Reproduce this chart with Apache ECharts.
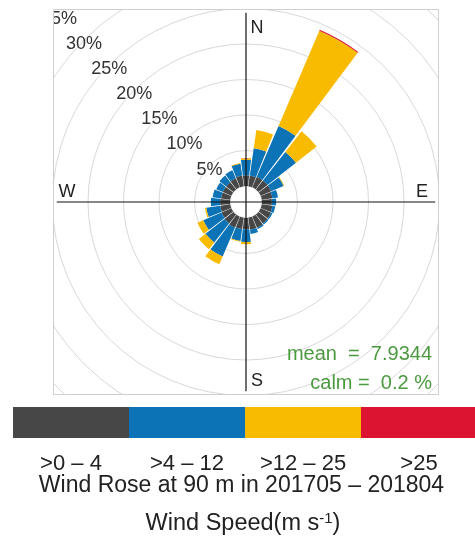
<!DOCTYPE html>
<html>
<head>
<meta charset="utf-8">
<script src="https://cdn.jsdelivr.net/npm/echarts@6/dist/echarts.min.js"></script>
<style>
  html, body { margin: 0; padding: 0; background: #ffffff; }
  #chart { width: 475px; height: 545px; }
</style>
</head>
<body>
<div id="chart"></div>
<script>
// Wind direction sectors (degrees clockwise from north), 15-degree bins starting at north
const directions = ['360', '15', '30', '45', '60', '75', '90', '105', '120', '135', '150', '165',
                    '180', '195', '210', '225', '240', '255', '270', '285', '300', '315', '330', '345'];

// Wind speed classes (m/s) and their colours
const speedBins = ['>0 – 4', '>4 – 12', '>12 – 25', '>25'];
const speedColors = ['#474747', '#0b73b6', '#f9bb00', '#dc1432'];

// Frequency (%) of each speed class per direction sector
const freqSpeed0to4 = [1.5, 1.5, 1.6, 1.6, 1.6, 1.5, 1.4, 1.5, 1.6, 1.6, 1.7, 1.7,
                       1.6, 1.6, 1.7, 1.6, 1.5, 1.4, 1.4, 1.3, 1.3, 1.3, 1.4, 1.5];
const freqSpeed4to12 = [2.2, 3.9, 7.8, 5.1, 1.9, 0.8, 0.6, 0.4, 0.2, 0.2, 0.2, 0.6,
                        1.8, 1.7, 4.4, 3.4, 2.8, 2.0, 1.3, 1.2, 1.0, 1.2, 1.2, 1.7];
const freqSpeed12to25 = [0.2, 2.6, 14.6, 3.7, 0.1, 0, 0, 0, 0, 0, 0, 0,
                         0.3, 0.1, 1.2, 1.2, 0.9, 0.2, 0, 0, 0, 0, 0, 0.1];
const freqSpeedAbove25 = [0, 0, 0.15, 0, 0, 0, 0, 0, 0, 0, 0, 0,
                          0, 0, 0, 0, 0, 0, 0, 0, 0, 0, 0, 0];

// Frequency rings (%)
const ringMax = 35;
const ringStep = 5;

// Summary statistics
const meanSpeed = '7.9344';
const calmPercent = '0.2';

const chartTitle = 'Wind Rose at 90 m in 201705 – 201804';
const compassLabels = ['N', 'E', 'S', 'W'];

// ---- layout ----
const CX = 246, CY = 202;          // rose centre
const HOLE = 16;                    // inner offset radius (px)
const PX_PER_PCT = 7.1;             // radial scale
const OUTER = HOLE + ringMax * PX_PER_PCT;
const PANEL_HALF = 192.5;           // half size of the framed panel
const CROSS_PCT = 24.4;             // extent of the compass cross lines (%)
const RING_LABEL_DROP = 4;          // ring labels sit slightly below the diagonal
const FONT = '"Liberation Sans", Arial, sans-serif';

const seriesValues = [freqSpeed0to4, freqSpeed4to12, freqSpeed12to25, freqSpeedAbove25];

const chart = echarts.init(document.getElementById('chart'), null, { renderer: 'canvas' });

const crossR = HOLE + CROSS_PCT * PX_PER_PCT;
const panelL = CX - PANEL_HALF, panelR = CX + PANEL_HALF;
const panelT = CY - PANEL_HALF, panelB = CY + PANEL_HALF;

const graphics = [];
// white masks keep the rings inside the framed panel
[[0, 0, 475, panelT], [0, panelB, 475, 545 - panelB], [0, 0, panelL, 545], [panelR, 0, 475 - panelR, 545]]
  .forEach(([x, y, w, h]) => graphics.push({
    type: 'rect', silent: true, z: 50,
    shape: { x, y, width: w, height: h }, style: { fill: '#ffffff' }
  }));
// panel frame
graphics.push({
  type: 'rect', silent: true, z: 51,
  shape: { x: panelL, y: panelT, width: panelR - panelL, height: panelB - panelT },
  style: { fill: 'none', stroke: '#cfcfcf', lineWidth: 1 }
});
// compass cross
graphics.push({ type: 'line', silent: true, z: 51,
  shape: { x1: CX - crossR, y1: CY, x2: CX + crossR, y2: CY }, style: { stroke: '#111', lineWidth: 1.2 } });
graphics.push({ type: 'line', silent: true, z: 51,
  shape: { x1: CX, y1: CY - crossR, x2: CX, y2: CY + crossR }, style: { stroke: '#111', lineWidth: 1.2 } });

function addText(text, x, y, opts) {
  graphics.push({
    type: 'text', silent: true, z: 52,
    style: Object.assign({
      text, x, y, fill: '#222', font: '18px ' + FONT,
      align: 'center', verticalAlign: 'middle',
      textAlign: 'center', textVerticalAlign: 'middle'
    }, opts || {})
  });
}
// compass letters
addText(compassLabels[0], CX + 11, CY - 174);
addText(compassLabels[1], CX + 176, CY - 10);
addText(compassLabels[2], CX + 11, CY + 179);
addText(compassLabels[3], CX - 179, CY - 10);
// statistics
addText('mean  =  ' + meanSpeed, 432, 354,
  { fill: '#4c9a40', align: 'right', textAlign: 'right', font: '20px ' + FONT });
addText('calm =  ' + calmPercent + ' %', 432, 383,
  { fill: '#4c9a40', align: 'right', textAlign: 'right', font: '20px ' + FONT });

// colour key
const keyX = 13, keyW = 116, keyY = 407, keyH = 31;
speedBins.forEach((label, i) => {
  graphics.push({ type: 'rect', silent: true, z: 52,
    shape: { x: keyX + i * keyW, y: keyY, width: keyW, height: keyH },
    style: { fill: speedColors[i] } });
  addText(label, keyX + i * keyW + keyW / 2, 464, { font: '22px ' + FONT });
});
addText(chartTitle, 241.5, 486, { font: '23px ' + FONT });
graphics.push({
  type: 'text', silent: true, z: 52,
  style: {
    text: 'Wind Speed(m s{sup|-1})', x: 243, y: 524,
    fill: '#222', font: '23.5px ' + FONT,
    align: 'center', verticalAlign: 'middle', textAlign: 'center', textVerticalAlign: 'middle',
    rich: { sup: { fontSize: 15, fontFamily: FONT, fill: '#222', verticalAlign: 'top', padding: [0, 0, 10, 0] } }
  }
});

const option = {
  animation: false,
  backgroundColor: '#ffffff',
  polar: [
    { center: [CX, CY], radius: [HOLE, OUTER] },
    { center: [CX, CY + RING_LABEL_DROP], radius: [HOLE, OUTER] }
  ],
  angleAxis: [
    {
      polarIndex: 0, type: 'category', data: directions,
      startAngle: 90 + 7.5, clockwise: true,
      axisLine: { show: false }, axisTick: { show: false },
      axisLabel: { show: false }, splitLine: { show: false }
    },
    {
      polarIndex: 1, type: 'value', min: 0, max: 360, startAngle: 135,
      axisLine: { show: false }, axisTick: { show: false },
      axisLabel: { show: false }, splitLine: { show: false }
    }
  ],
  radiusAxis: [
    {
      polarIndex: 0, type: 'value', min: 0, max: ringMax, interval: ringStep,
      axisLine: { show: false }, axisTick: { show: false }, axisLabel: { show: false },
      splitLine: { show: true, lineStyle: { color: '#d9d9d9', width: 1 } }
    },
    {
      polarIndex: 1, type: 'value', min: 0, max: ringMax, interval: ringStep,
      axisLine: { show: false }, axisTick: { show: false }, splitLine: { show: false },
      axisLabel: {
        formatter: v => (v > 0 ? v + '%' : ''),
        margin: 0, rotate: 0, align: 'center', verticalAlign: 'middle',
        fontSize: 18, fontFamily: FONT, color: '#333'
      }
    }
  ],
  series: speedBins.map((name, i) => ({
    type: 'bar', name, coordinateSystem: 'polar', polarIndex: 0,
    stack: 'freq', data: seriesValues[i], barCategoryGap: '9%',
    itemStyle: { color: speedColors[i] }, silent: true
  })),
  graphic: { elements: graphics }
};

chart.setOption(option);
</script>
</body>
</html>
